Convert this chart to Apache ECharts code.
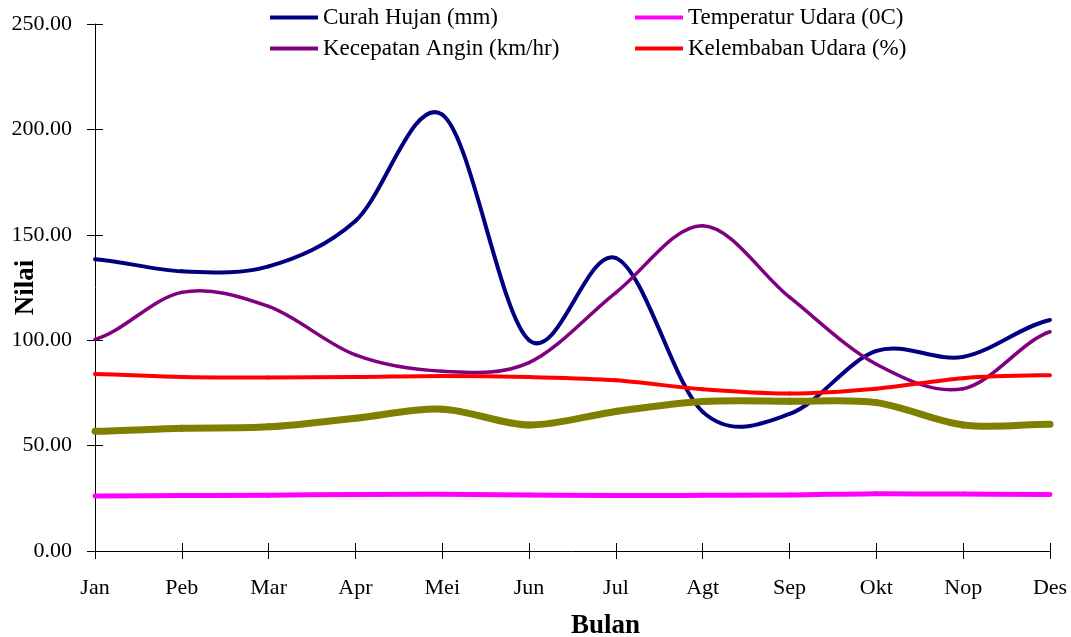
<!DOCTYPE html>
<html>
<head>
<meta charset="utf-8">
<script src="https://cdn.jsdelivr.net/npm/echarts@6/dist/echarts.min.js"></script>
<style>
  html, body { margin: 0; padding: 0; background: #fff; }
  #chart { width: 1071px; height: 637px; }
</style>
</head>
<body>
<div id="chart"></div>
<script>
// Monthly climate data
const months = ['Jan', 'Peb', 'Mar', 'Apr', 'Mei', 'Jun', 'Jul', 'Agt', 'Sep', 'Okt', 'Nop', 'Des'];
const curahHujan = [138.4, 132.7, 135.0, 156.6, 207.0, 100.0, 139.0, 66.0, 65.0, 94.9, 92.1, 109.6];
const temperatur = [26.1, 26.3, 26.5, 26.8, 26.9, 26.6, 26.3, 26.4, 26.6, 27.2, 27.0, 26.8];
const kecepatanAngin = [100.4, 122.7, 116.0, 93.0, 85.3, 89.4, 122.6, 154.3, 120.4, 88.6, 77.0, 104.0];
const kelembaban = [84.0, 82.5, 82.3, 82.5, 83.0, 82.5, 81.0, 76.7, 74.7, 77.0, 82.0, 83.4];
const seriKelima = [56.8, 58.2, 58.9, 63.0, 67.3, 59.8, 66.2, 70.9, 71.0, 70.4, 59.8, 60.1];
const yTicks = { min: 0, max: 250, interval: 50 };

const serif = '"Liberation Serif", "Times New Roman", serif';
const chart = echarts.init(document.getElementById('chart'), null, { renderer: 'canvas' });

const legendBase = {
  orient: 'horizontal',
  padding: 0,
  itemWidth: 48,
  itemHeight: 4,
  itemGap: 0,
  icon: 'rect',
  textStyle: { fontFamily: serif, fontSize: 23, color: '#000' },
  selectedMode: false
};

// Smoothed line: each data item draws the cubic segment to the next point,
// with Catmull-Rom style control points taken from the neighbouring points.
function smoothSeries(name, values, color, width) {
  return {
    name: name,
    type: 'custom',
    xAxisIndex: 0,
    yAxisIndex: 0,
    color: color,
    itemStyle: { color: color },
    data: values.map((v, i) => [i, v]),
    encode: { x: 0, y: 1 },
    renderItem: function (params, api) {
      const i = params.dataIndex;
      if (i >= values.length - 1) return null;
      const pt = k => api.coord([k, values[Math.max(0, Math.min(values.length - 1, k))]]);
      const p0 = pt(i - 1), p1 = pt(i), p2 = pt(i + 1), p3 = pt(i + 2);
      return {
        type: 'bezierCurve',
        shape: {
          x1: p1[0], y1: p1[1],
          cpx1: p1[0] + (p2[0] - p0[0]) / 6, cpy1: p1[1] + (p2[1] - p0[1]) / 6,
          cpx2: p2[0] - (p3[0] - p1[0]) / 6, cpy2: p2[1] - (p3[1] - p1[1]) / 6,
          x2: p2[0], y2: p2[1]
        },
        style: { stroke: color, lineWidth: width, fill: null, lineCap: 'round' },
        silent: true
      };
    }
  };
}

chart.setOption({
  animation: false,
  backgroundColor: '#fff',
  grid: { left: 95, right: 21, top: 24, bottom: 86, containLabel: false, outerBoundsMode: 'none' },
  legend: [
    Object.assign({}, legendBase, { left: 270, top: 6, data: ['Curah Hujan (mm)'] }),
    Object.assign({}, legendBase, { left: 635, top: 6, data: ['Temperatur Udara (0C)'] }),
    Object.assign({}, legendBase, { left: 270, top: 37, data: ['Kecepatan Angin (km/hr)'] }),
    Object.assign({}, legendBase, { left: 635, top: 37, data: ['Kelembaban Udara (%)'] })
  ],
  xAxis: [
    {
      type: 'category',
      data: months,
      boundaryGap: false,
      name: 'Bulan',
      nameLocation: 'middle',
      nameGap: 62,
      nameMoveOverlap: false,
      nameTextStyle: { fontFamily: serif, fontSize: 27, fontWeight: 'bold', color: '#000', padding: [0, 0, 0, 66] },
      axisLine: { lineStyle: { color: '#000', width: 1 } },
      axisTick: { show: true, length: 8, inside: false, lineStyle: { color: '#000' } },
      axisLabel: { fontFamily: serif, fontSize: 22, color: '#000', margin: 26, interval: 0 },
      splitLine: { show: false }
    },
    {
      type: 'category',
      data: months,
      boundaryGap: false,
      position: 'bottom',
      axisLine: { show: false },
      axisTick: { show: true, length: 8, inside: true, lineStyle: { color: '#000' } },
      axisLabel: { show: false },
      splitLine: { show: false }
    }
  ],
  yAxis: [
    {
      type: 'value',
      min: yTicks.min,
      max: yTicks.max,
      interval: yTicks.interval,
      name: 'Nilai',
      nameLocation: 'middle',
      nameGap: 55,
      nameMoveOverlap: false,
      nameTextStyle: { fontFamily: serif, fontSize: 27, fontWeight: 'bold', color: '#000', padding: [0, 0, 0, 0] },
      axisLine: { show: true, lineStyle: { color: '#000', width: 1 } },
      axisTick: { show: true, length: 8, inside: false, lineStyle: { color: '#000' } },
      axisLabel: {
        fontFamily: serif, fontSize: 22, color: '#000', margin: 23,
        formatter: v => v.toFixed(2)
      },
      splitLine: { show: false }
    },
    {
      type: 'value',
      min: yTicks.min,
      max: yTicks.max,
      interval: yTicks.interval,
      position: 'left',
      axisLine: { show: false },
      axisTick: { show: true, length: 8, inside: true, lineStyle: { color: '#000' } },
      axisLabel: { show: false },
      splitLine: { show: false }
    }
  ],
  series: [
    smoothSeries('Curah Hujan (mm)', curahHujan, '#000080', 4),
    smoothSeries('Temperatur Udara (0C)', temperatur, '#FF00FF', 5),
    smoothSeries('Kecepatan Angin (km/hr)', kecepatanAngin, '#800080', 3.5),
    smoothSeries('Kelembaban Udara (%)', kelembaban, '#FF0000', 4),
    smoothSeries('Seri 5', seriKelima, '#808000', 7)
  ]
});
</script>
</body>
</html>
